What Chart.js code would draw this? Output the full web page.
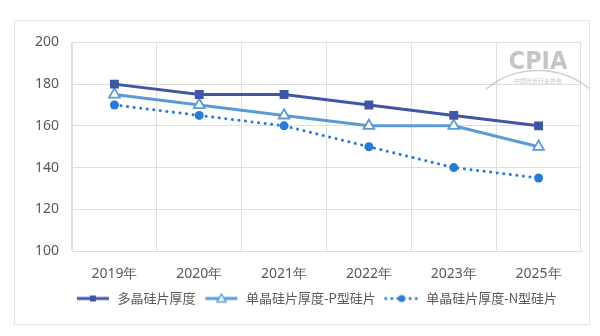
<!DOCTYPE html>
<html>
<head>
<meta charset="utf-8">
<script src="https://cdn.jsdelivr.net/npm/chart.js@4.4.1/dist/chart.umd.min.js"></script>
<style>
    body { margin: 0; background: #fff; font-family: "Noto Sans CJK SC", "Noto Sans", sans-serif; }
    #frame {
        position: absolute; left: 14px; top: 20px;
        width: 574px; height: 303px;
        border: 1px solid #e3e3e3;
    }
    #wrap { position: relative; width: 574px; height: 303px; }
</style>
</head>
<body>
<div id="frame"><div id="wrap"><canvas id="thickness_chart"></canvas></div></div>
<script>
// years and wafer thickness (um)
const years = ["2019年", "2020年", "2021年", "2022年", "2023年", "2025年"];
const polyThickness = [180, 175, 175, 170, 165, 160];
const monoPThickness = [175, 170, 165, 160, 160, 150];
const monoNThickness = [170, 165, 160, 150, 140, 135];
const yTicks = [100, 120, 140, 160, 180, 200];

const seriesNames = ["多晶硅片厚度", "单晶硅片厚度-P型硅片", "单晶硅片厚度-N型硅片"];
const colors = ["#3f57a6", "#5b9bd5", "#2a7bd8"];

// small line+marker swatches for the legend
function makeSwatch(kind, color) {
    const c = document.createElement("canvas");
    c.width = 36; c.height = 12;
    const g = c.getContext("2d");
    g.strokeStyle = color;
    g.fillStyle = color;
    g.lineWidth = 3;
    if (kind === "dot") {
        g.setLineDash([0.1, 6]);
        g.lineCap = "round";
    }
    g.beginPath(); g.moveTo(2, 6); g.lineTo(34, 6); g.stroke();
    g.setLineDash([]);
    if (kind === "square") {
        g.fillRect(15, 3, 6, 6);
    } else if (kind === "triangle") {
        g.fillStyle = "#fff";
        g.lineWidth = 1.5;
        g.beginPath(); g.moveTo(18, 1.5); g.lineTo(22.5, 9.5); g.lineTo(13.5, 9.5); g.closePath();
        g.fill(); g.stroke();
    } else {
        g.beginPath(); g.arc(18, 6, 3.5, 0, Math.PI * 2); g.fill();
    }
    return c;
}
const swatches = [
    makeSwatch("square", colors[0]),
    makeSwatch("triangle", colors[1]),
    makeSwatch("dot", colors[2])
];

// faint CPIA mark in the top right of the plot
const logoPlugin = {
    id: "logoMark",
    afterLayout(chart) {
        // legend row sits a little right of centre
        chart.legend.left += 18;
        chart.legend.right += 18;
    },
    afterDraw(chart) {
        const g = chart.ctx;
        const a = chart.chartArea;
        const cx = a.right - 43;
        g.save();
        g.fillStyle = "rgba(140,140,140,0.5)";
        g.font = "bold 25px 'DejaVu Sans Condensed'";
        g.textAlign = "center";
        g.fillText("CPIA", cx, a.top + 20);
        g.font = "6px 'Noto Sans CJK SC'";
        g.fillText("中国光伏行业协会", cx, a.top + 38);
        g.strokeStyle = "rgba(150,150,150,0.45)";
        g.lineWidth = 1.5;
        g.beginPath();
        g.arc(cx, a.top + 110, 82, Math.PI * 1.28, Math.PI * 1.72);
        g.stroke();
        g.restore();
    }
};

const ctx = document.getElementById("thickness_chart").getContext("2d");
const thickness_chart = new Chart(ctx, {
    type: "line",
    data: {
        labels: years,
        datasets: [
            {
                label: seriesNames[0],
                data: polyThickness,
                borderColor: colors[0],
                backgroundColor: colors[0],
                borderWidth: 3,
                pointStyle: "rect",
                pointRadius: 6.3,
                pointBorderWidth: 0,
                tension: 0
            },
            {
                label: seriesNames[1],
                data: monoPThickness,
                borderColor: colors[1],
                backgroundColor: "#fff",
                borderWidth: 3,
                pointStyle: "triangle",
                pointRadius: 6.2,
                pointBorderWidth: 1.8,
                tension: 0
            },
            {
                label: seriesNames[2],
                data: monoNThickness,
                borderColor: colors[2],
                backgroundColor: colors[2],
                borderWidth: 3,
                borderDash: [0.1, 6.5],
                borderCapStyle: "round",
                pointStyle: "circle",
                pointRadius: 4.5,
                pointBorderWidth: 0,
                tension: 0
            }
        ]
    },
    options: {
        responsive: true,
        maintainAspectRatio: false,
        animation: false,
        layout: { padding: { left: 0, right: 8, top: 21, bottom: 9 } },
        scales: {
            x: {
                offset: true,
                afterFit(scale) { scale.height = 33; },
                grid: { color: "#dedede", lineWidth: 1, drawTicks: false, offset: true },
                border: { color: "#dedede" },
                ticks: { color: "#595959", font: { size: 14, family: "'Noto Sans', sans-serif" }, padding: 15 }
            },
            y: {
                min: 100,
                max: 200,
                afterBuildTicks(scale) { scale.ticks = yTicks.map(v => ({ value: v })); },
                afterFit(scale) { scale.width = 57; },
                grid: { color: "#dedede", lineWidth: 1, drawTicks: false },
                border: { color: "#dedede" },
                ticks: { color: "#595959", font: { size: 14, family: "'Noto Sans', sans-serif" }, padding: 13 }
            }
        },
        plugins: {
            legend: {
                position: "bottom",
                labels: {
                    usePointStyle: true,
                    pointStyleWidth: 36,
                    color: "#595959",
                    font: { size: 13, family: "'Noto Sans CJK SC', sans-serif" },
                    padding: 8,
                    generateLabels(chart) {
                        return chart.data.datasets.map((ds, i) => ({
                            text: ds.label,
                            pointStyle: swatches[i],
                            fontColor: "#595959",
                            lineWidth: 0,
                            strokeStyle: "transparent",
                            fillStyle: "transparent",
                            datasetIndex: i
                        }));
                    }
                }
            },
            tooltip: { enabled: false }
        }
    },
    plugins: [logoPlugin]
});
</script>
</body>
</html>
